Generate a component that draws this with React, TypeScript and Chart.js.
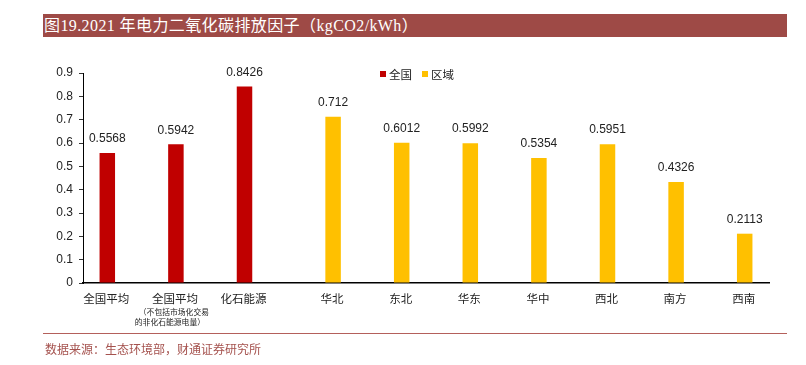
import React, { useEffect, useRef } from 'react';
import { Chart, registerables } from 'chart.js';

Chart.register(...registerables);

const title = '图19.2021 年电力二氧化碳排放因子（kgCO2/kWh）';
const source = '数据来源：生态环境部，财通证券研究所';
const categories = ['全国平均', '全国平均', '化石能源', '华北', '东北', '华东', '华中', '西北', '南方', '西南'];
const categoryNotes: string[][] = [[], ['（不包括市场化交易', '的非化石能源电量）'], [], [], [], [], [], [], [], []];
const seriesNames = ['全国', '区域'];
const seriesColors = ['#C00000', '#FFC000'];
const nationalValues = [0.5568, 0.5942, 0.8426, null, null, null, null, null, null, null];
const regionalValues = [null, null, null, 0.712, 0.6012, 0.5992, 0.5354, 0.5951, 0.4326, 0.2113];
const yMin = 0;
const yMax = 0.9;
const yStep = 0.1;

const NUM_FONT = '"Liberation Sans", Arial, sans-serif';
const CJK_FONT = '"Noto Sans CJK SC", sans-serif';

const labelPlugin = {
  id: 'barLabels',
  afterDatasetsDraw(chart: any) {
    const ctx = chart.ctx;
    const bottom = chart.chartArea.bottom;
    ctx.save();
    ctx.textAlign = 'center';
    ctx.textBaseline = 'middle';
    ctx.fillStyle = '#222';
    chart.data.datasets.forEach((ds: any, di: number) => {
      const meta = chart.getDatasetMeta(di);
      meta.data.forEach((bar: any, i: number) => {
        const v = ds.data[i];
        if (v === null || v === undefined) return;
        ctx.font = '12px ' + NUM_FONT;
        ctx.fillStyle = '#222';
        ctx.fillText(String(v), bar.x, bar.y - 14);
        ctx.font = '11.5px ' + CJK_FONT;
        ctx.fillStyle = '#222';
        ctx.fillText(categories[i], bar.x - 1, bottom + 16);
        const notes = categoryNotes[i] || [];
        ctx.font = '7.8px ' + CJK_FONT;
        notes.forEach((n, k) => {
          ctx.fillText(n, bar.x - 2 - k * 4, bottom + 29 + k * 10.5);
        });
      });
    });
    ctx.restore();
  },
};

export default function App() {
  const canvasRef = useRef<HTMLCanvasElement | null>(null);

  useEffect(() => {
    if (!canvasRef.current) return;
    const yTicks: number[] = [];
    const chart = new Chart(canvasRef.current, {
      type: 'bar',
      data: {
        labels: categories,
        datasets: [
          {
            label: seriesNames[0],
            data: nationalValues as any,
            backgroundColor: seriesColors[0],
            categoryPercentage: 0.583,
            barPercentage: 0.775,
          },
          {
            label: seriesNames[1],
            data: regionalValues as any,
            backgroundColor: seriesColors[1],
            categoryPercentage: 0.583,
            barPercentage: 0.775,
          },
        ],
      },
      options: {
        responsive: false,
        animation: false,
        devicePixelRatio: 1,
        layout: { padding: { left: 0, right: 37, top: 73, bottom: 82 } },
        plugins: {
          legend: { display: false },
          tooltip: { enabled: false },
          title: { display: false },
        },
        scales: {
          x: {
            type: 'category',
            grid: { display: false },
            border: { display: true, color: '#000', width: 1.5 },
            ticks: { display: false },
            afterFit(scale: any) {
              scale.height = 0;
            },
          },
          y: {
            min: yMin,
            max: yMax,
            grid: {
              display: true,
              drawOnChartArea: false,
              drawTicks: true,
              tickLength: 4,
              color: '#333',
            },
            border: { display: true, color: '#000', width: 1 },
            ticks: {
              stepSize: yStep,
              padding: 6,
              color: '#222',
              font: { family: NUM_FONT, size: 12 },
              callback: (v: any) => (Number(v) === 0 ? '0' : Number(v).toFixed(1)),
            },
            afterFit(scale: any) {
              scale.width = 83;
            },
          },
        },
      },
      plugins: [labelPlugin],
    });
    return () => chart.destroy();
  }, []);

  return (
    <div
      style={{
        position: 'fixed',
        left: 0,
        top: 0,
        width: 806,
        height: 365,
        background: '#fff',
        overflow: 'hidden',
      }}
    >
      <canvas
        ref={canvasRef}
        width={806}
        height={365}
        style={{ position: 'absolute', left: 0, top: 0, width: 806, height: 365 }}
      />
      <div
        style={{
          position: 'absolute',
          left: 43,
          top: 14,
          width: 744,
          height: 23,
          background: '#9E4A46',
          color: '#fff',
          fontFamily: '"Liberation Serif", "Noto Sans CJK SC", serif',
          fontSize: 16,
          lineHeight: '23px',
          paddingLeft: 1,
          boxSizing: 'border-box',
          whiteSpace: 'nowrap',
          letterSpacing: 0.4,
        }}
      >
        {title}
      </div>
      <div
        style={{
          position: 'absolute',
          left: 380,
          top: 66,
          display: 'flex',
          alignItems: 'center',
          fontFamily: CJK_FONT,
          fontSize: 11.5,
          color: '#222',
          lineHeight: '16px',
          whiteSpace: 'nowrap',
        }}
      >
        {seriesNames.map((name, i) => (
          <span key={name} style={{ display: 'flex', alignItems: 'center', marginRight: 10 }}>
            <span
              style={{
                display: 'inline-block',
                width: 6,
                height: 6,
                background: seriesColors[i],
                marginRight: 3,
              }}
            />
            {name}
          </span>
        ))}
      </div>
      <div
        style={{
          position: 'absolute',
          left: 43,
          top: 333,
          width: 744,
          height: 1,
          background: '#B4605B',
        }}
      />
      <div
        style={{
          position: 'absolute',
          left: 45,
          top: 341,
          fontFamily: CJK_FONT,
          fontSize: 12,
          lineHeight: '16px',
          color: '#A5524E',
          whiteSpace: 'nowrap',
        }}
      >
        {source}
      </div>
    </div>
  );
}
